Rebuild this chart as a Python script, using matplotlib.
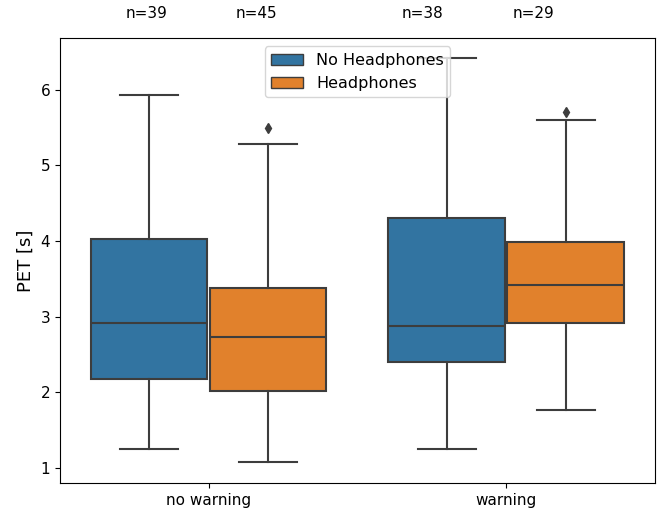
import matplotlib
matplotlib.use("Agg")
import matplotlib.pyplot as plt
from matplotlib.patches import Patch

categories = ["no warning", "warning"]
hues = ["No Headphones", "Headphones"]
colors = ["#3274a1", "#e1812c"]

# stats per (category, hue): whislo, q1, med, q3, whishi, fliers
whislo = [[1.25, 1.07], [1.25, 1.77]]
q1 = [[2.17, 2.01], [2.40, 2.92]]
med = [[2.91, 2.73], [2.88, 3.42]]
q3 = [[4.03, 3.38], [4.31, 3.99]]
whishi = [[5.93, 5.28], [6.42, 5.60]]
fliers = [[[], [5.49]], [[], [5.70]]]
counts = [[39, 45], [38, 29]]
count_x = [[-0.21, 0.16], [0.72, 1.09]]

fig = plt.figure(figsize=(6.65, 5.12), dpi=100)
ax = fig.add_axes([0.090, 0.057, 0.895, 0.868])

line_c = "#3d3d3d"
width = 0.8
nh = len(hues)
for ci in range(len(categories)):
    for hi in range(nh):
        offset = -width / 2 + width / nh * (hi + 0.5)
        stats = [dict(whislo=whislo[ci][hi], q1=q1[ci][hi], med=med[ci][hi],
                      q3=q3[ci][hi], whishi=whishi[ci][hi], fliers=fliers[ci][hi])]
        ax.bxp(stats, positions=[ci + offset], widths=[width / nh * 0.98],
               patch_artist=True, manage_ticks=False,
               boxprops=dict(facecolor=colors[hi], edgecolor=line_c, linewidth=1.5),
               medianprops=dict(color=line_c, linewidth=1.5),
               whiskerprops=dict(color=line_c, linewidth=1.5),
               capprops=dict(color=line_c, linewidth=1.5),
               capwidths=[width / nh * 0.98 / 2],
               flierprops=dict(marker='d', markerfacecolor=line_c, markeredgecolor=line_c,
                               markersize=5))
        ax.text(count_x[ci][hi], 7.01, f"n={counts[ci][hi]}", ha='center', va='center',
                fontsize=11, clip_on=False)

ax.set_xlim(-0.5, 1.5)
ax.set_ylim(0.80, 6.68)
ax.set_xticks(range(len(categories)))
ax.set_xticklabels(categories, fontsize=11)
ax.set_yticks([1, 2, 3, 4, 5, 6])
ax.tick_params(axis='y', labelsize=11)
ax.set_ylabel("PET [s]", fontsize=13)

handles = [Patch(facecolor=colors[i], edgecolor=line_c, label=hues[i]) for i in range(nh)]
ax.legend(handles=handles, loc='upper center', fontsize=11.5, framealpha=0.8)

fig.savefig("out.png", dpi=100)
